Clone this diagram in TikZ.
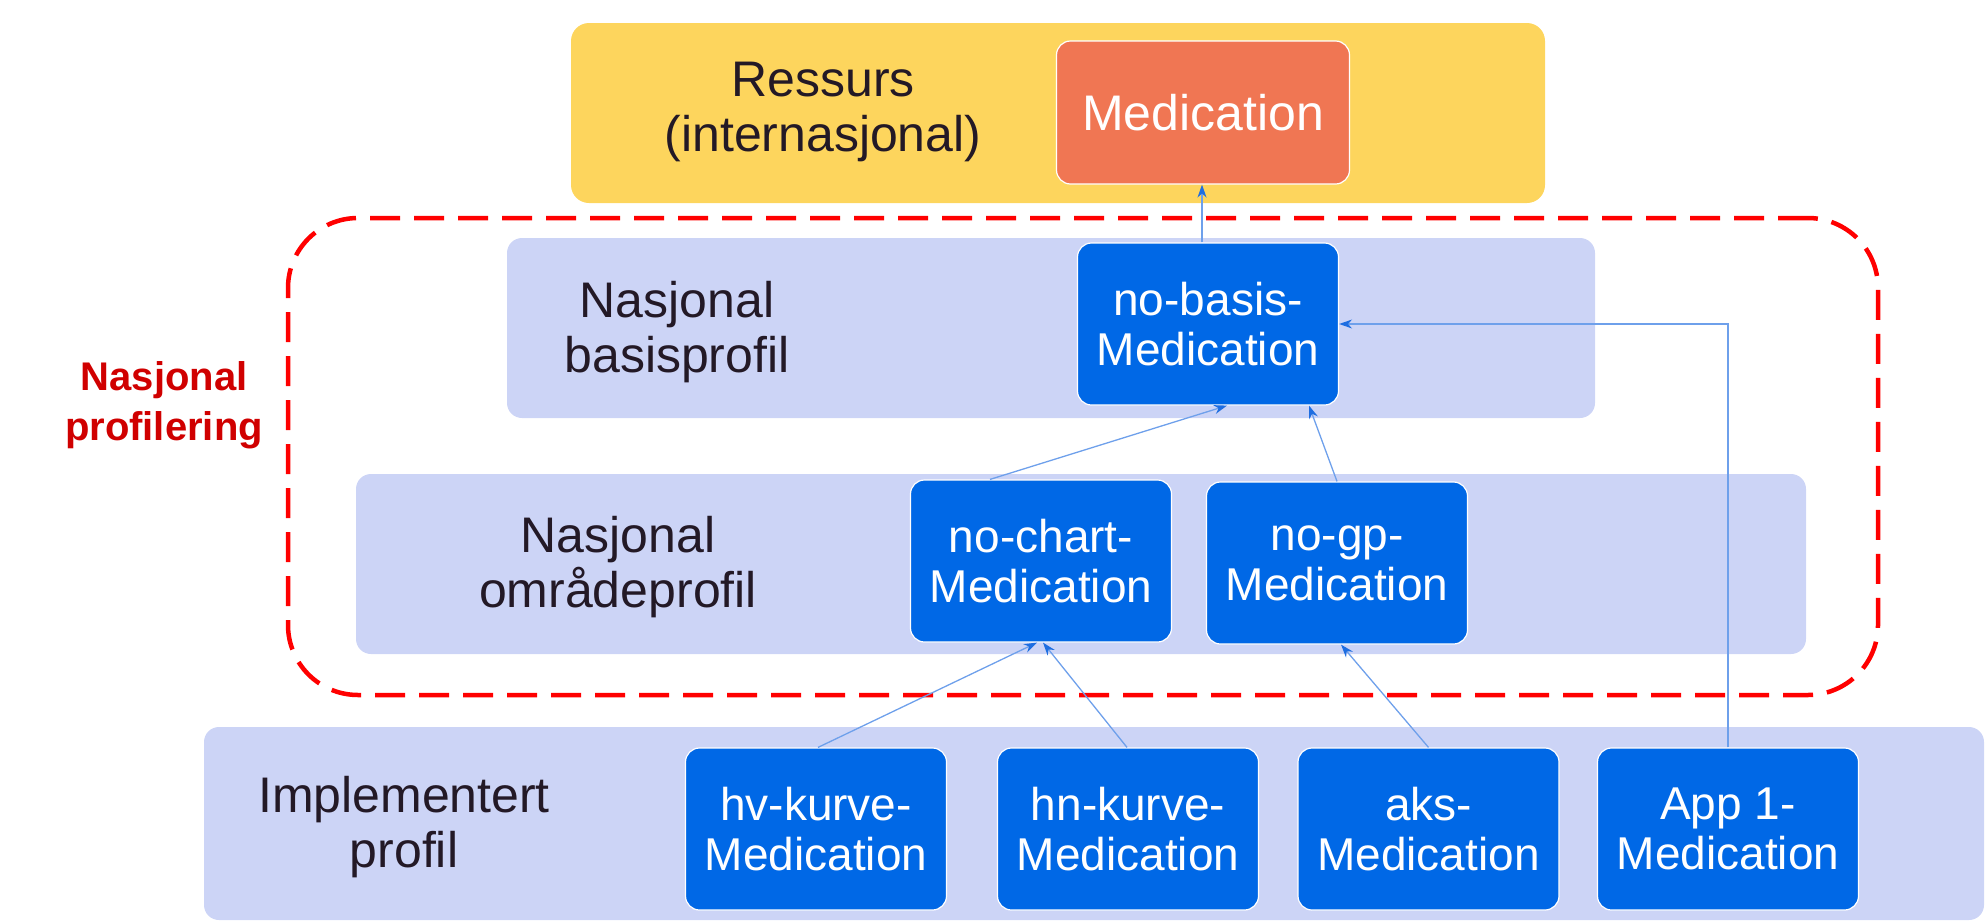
\documentclass[tikz,border=0pt]{standalone}
\usepackage{fontspec}
\setmainfont{Liberation Sans}
\usetikzlibrary{arrows.meta,calc}
\definecolor{bandc}{RGB}{204,212,246}
\definecolor{yell}{RGB}{253,213,93}
\definecolor{orng}{RGB}{240,118,83}
\definecolor{boxb}{RGB}{0,104,230}
\definecolor{txtc}{RGB}{35,25,38}
\definecolor{redd}{RGB}{255,0,0}
\definecolor{redt}{RGB}{208,0,0}
\definecolor{linec}{RGB}{110,160,235}
\definecolor{tipc}{RGB}{30,110,225}
\begin{document}
\begin{tikzpicture}[x=1pt,y=-1pt,
  bandbox/.style={rectangle, fill=bandc, draw=none, rounded corners=15pt, inner sep=0pt},
  prof/.style={rectangle, fill=boxb, draw=white, line width=1.2pt, rounded corners=14pt,
    text=white, align=center, minimum width=261pt, minimum height=162pt, inner sep=0pt,
    font=\fontsize{46}{50}\selectfont},
  lbl/.style={text=txtc, align=center, inner sep=0pt, font=\fontsize{50}{55}\selectfont},
  dashbox/.style={rectangle, draw=redd, line width=4.5pt, dash pattern=on 30pt off 14pt,
    rounded corners=70pt, inner sep=0pt},
  conn/.style={draw=linec, line width=1.3pt, -{Stealth[length=13pt,width=9pt,color=tipc]}}
]
\useasboundingbox (0,0) rectangle (1986,921);

% bands
\node[bandbox, fill=yell, rounded corners=18pt, minimum width=974pt, minimum height=180pt] (band1) at (1058,113) {};
\node[bandbox, minimum width=1088pt, minimum height=180pt] (band2) at (1051,328) {};
\node[bandbox, minimum width=1450pt, minimum height=180pt] (band3) at (1081,564) {};
\node[bandbox, minimum width=1780pt, minimum height=193pt] (band4) at (1094,823.5) {};

% dashed national profiling frame
\node[dashbox, minimum width=1590pt, minimum height=477pt] (dz) at (1083,456.5) {};

% labels
\node[lbl] (lres) at (823,112) {Ressurs\\(internasjonal)};
\node[lbl] (lbas) at (677,332) {Nasjonal\\basisprofil};
\node[lbl] (lomr) at (618,567) {Nasjonal\\områdeprofil};
\node[lbl] (limp) at (404,827) {Implementert\\profil};
\node[text=redt, align=center, inner sep=0pt, font=\fontsize{40}{50}\bfseries\selectfont] (lnp) at (164,405) {Nasjonal\\profilering};

% resource
\node[prof, fill=orng, minimum width=293pt, minimum height=143pt, font=\fontsize{50}{55}\selectfont] (med) at (1203,112.5) {Medication};

% profiles
\node[prof] (nb) at (1208,324) {no-basis-\\Medication};
\node[prof] (nc) at (1041,561) {no-chart-\\Medication};
\node[prof] (ng) at (1337,563) {no-gp-\\Medication};
\node[prof] (hv) at (816,829) {hv-kurve-\\Medication};
\node[prof] (hn) at (1128,829) {hn-kurve-\\Medication};
\node[prof] (aks) at (1428.5,829) {aks-\\Medication};
\node[prof] (app) at (1728,829) {App 1-\\Medication};

% connectors
\draw[conn] ([xshift=-6pt]nb.north) -- ([xshift=-1pt]med.south);
\draw[conn] ([xshift=-51pt]nc.north) -- ([xshift=19pt]nb.south);
\draw[conn] (ng.north) -- ([xshift=101pt]nb.south);
\draw[conn] ([xshift=2pt]hv.north) -- ([xshift=-4pt]nc.south);
\draw[conn] ([xshift=-1pt]hn.north) -- ([xshift=2pt]nc.south);
\draw[conn] (aks.north) -- ([xshift=4pt]ng.south);
\draw[conn] (app.north) |- (nb.east);
\end{tikzpicture}
\end{document}
